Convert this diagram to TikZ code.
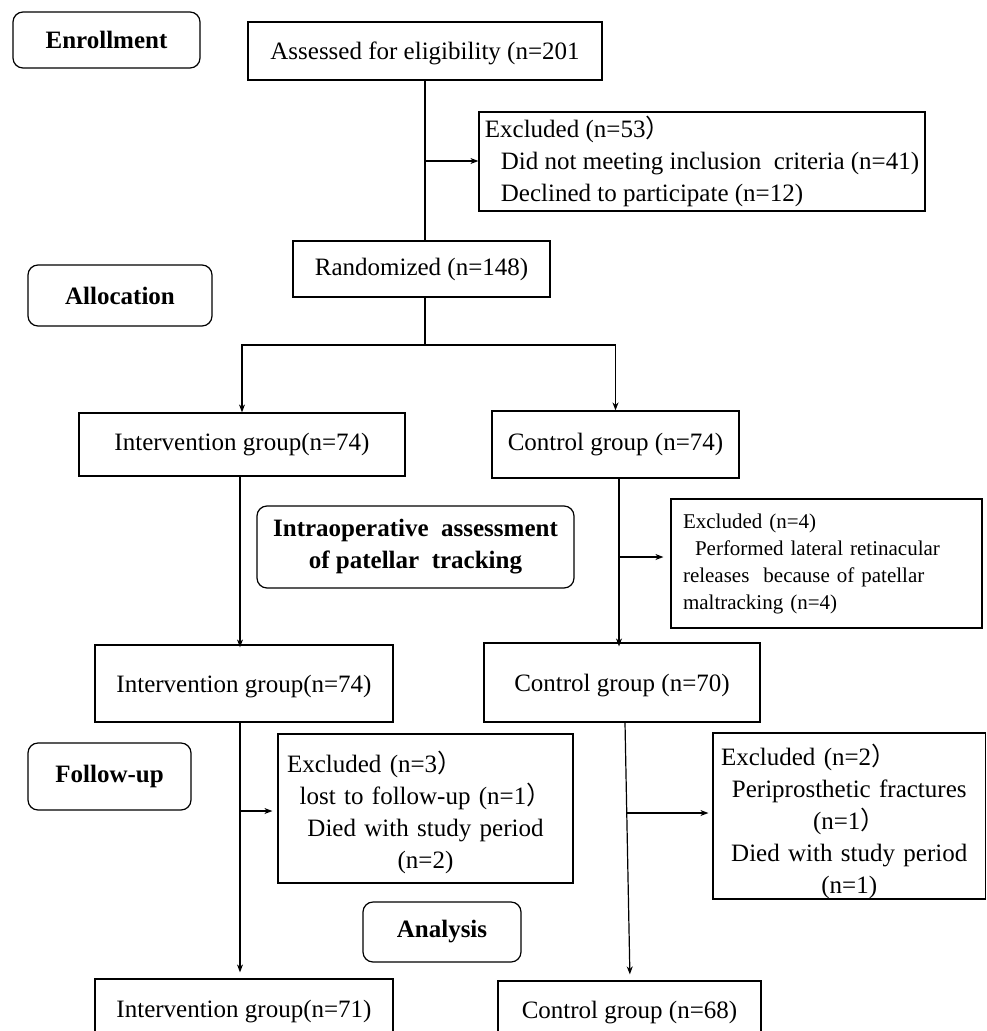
\documentclass[tikz,border=0pt]{standalone}
\usepackage{fontspec}
\setmainfont{Liberation Serif}
\newfontfamily\cjk{Noto Sans CJK SC}
\usetikzlibrary{arrows.meta}
\begin{document}
\begin{tikzpicture}[x=1pt,y=-1pt,
  line width=1.2pt,
  box/.style={draw, line width=1.2pt, inner sep=0pt, font=\fontsize{25}{32}\selectfont},
  stage/.style={box, rounded corners=10pt, font=\bfseries\fontsize{25}{32}\selectfont},
  arr/.style={-{Stealth[length=8pt,width=6pt]}}]
\useasboundingbox (0,0) rectangle (987,1031);
\clip (0,0) rectangle (987,1031);

% stage labels
\node[stage, minimum width=187pt, minimum height=56pt] (enroll) at (106.5,40) {Enrollment};
\node[stage, minimum width=184pt, minimum height=61pt] (alloc) at (120,295.5) {Allocation};
\node[stage, minimum width=317pt, minimum height=82pt, align=center] (intra) at (415.5,547)
  {Intraoperative\ \ assessment\\of patellar\ \ tracking};
\node[stage, minimum width=163pt, minimum height=67pt] (follow) at (109.5,776.5) {Follow-up};
\node[stage, minimum width=158pt, minimum height=60pt] (analysis) at (442,932) {Analysis};

% main boxes
\node[box, minimum width=354pt, minimum height=58pt] (assess) at (425,51) {\rule{0pt}{22pt}Assessed for eligibility (n=201};
\node[box, minimum width=446pt, minimum height=99pt, align=left] (excl1) at (702,161.5)
  {Excluded (n=53{\cjk ）}\\
   \hspace*{16pt}Did not meeting inclusion\ \ criteria (n=41)\\
   \hspace*{16pt}Declined\ to participate (n=12)};
\node[box, minimum width=257pt, minimum height=56pt] (rand) at (421.5,269) {Randomized (n=148)};

\node[box, minimum width=326pt, minimum height=63pt] (int1) at (242,444.5) {Intervention group(n=74)};
\node[box, minimum width=247pt, minimum height=67pt] (con1) at (615.5,444.5) {Control group\ (n=74)};

\node[box, minimum width=311pt, minimum height=129pt, inner xsep=12pt, text width=287pt, align=left,
      font=\fontsize{21}{27}\selectfont] (excl2) at (826.5,563.5)
  {Excluded (n=4)\\
   \hspace*{12pt}Performed lateral retinacular\\
   releases\ \ because of patellar\\
   maltracking (n=4)};

\node[box, minimum width=298pt, minimum height=77pt] (int2) at (244,683.5) {\rule{0pt}{24pt}Intervention group(n=74)};
\node[box, minimum width=276pt, minimum height=79pt] (con2) at (622,682.5) {\rule{0pt}{24pt}Control group\ (n=70)};

\node[box, minimum width=295pt, minimum height=149pt, inner xsep=9pt, text width=277pt, align=center] (excl3) at (425.5,808.5)
  {\makebox[277pt][l]{\rule{0pt}{30pt}Excluded (n=3{\cjk ）}}\\
   lost to follow-up (n=1{\cjk ）}\\
   Died with study period\\
   (n=2)};

\node[box, minimum width=272.5pt, minimum height=166pt, inner xsep=8pt, text width=256.5pt, align=center] (excl4) at (849.25,816)
  {\makebox[256.5pt][l]{\rule{0pt}{32pt}Excluded (n=2{\cjk ）}}\\
   Periprosthetic fractures\\
   (n=1{\cjk ）}\\
   Died with study period\\
   (n=1)};

\node[box, minimum width=298pt, minimum height=66pt] (int3) at (244,1012) {Intervention group(n=71)};
\node[box, minimum width=263pt, minimum height=64pt] (con3) at (629.5,1013) {Control group\ (n=68)};

% connectors
\coordinate (b1) at (425,161);
\draw (assess.south) -- (assess.south |- rand.north);
\draw[arr] (b1) -- (excl1.west |- b1);

\coordinate (sp) at (425,345);
\draw (rand.south -| sp) -- (sp);
\draw[arr] (sp) -| (int1.north);
\draw[arr] (sp) -| (con1.north);

\coordinate (lx) at (240,0);
\draw[arr] (int1.south -| lx) -- ([yshift=-3pt]int2.north -| lx);

\coordinate (rx) at (619,0);
\draw[arr] (con1.south -| rx) -- ([yshift=-4pt]con2.north -| rx);
\coordinate (b2) at (619,557);
\draw[arr, shorten >=7pt] (b2) -- (excl2.west |- b2);

\draw[arr, shorten >=6pt] (int2.south -| lx) -- (int3.north -| lx);
\coordinate (b3) at (240,811);
\draw[arr, shorten >=5pt] (b3) -- (excl3.west |- b3);

\coordinate (c1) at (625,0);
\coordinate (c2) at (630,0);
\draw[arr, shorten >=6pt] (con2.south -| c1) -- (con3.north -| c2);
\coordinate (b4) at (627,813);
\draw[arr, shorten >=4pt] (b4) -- (excl4.west |- b4);
\end{tikzpicture}
\end{document}
